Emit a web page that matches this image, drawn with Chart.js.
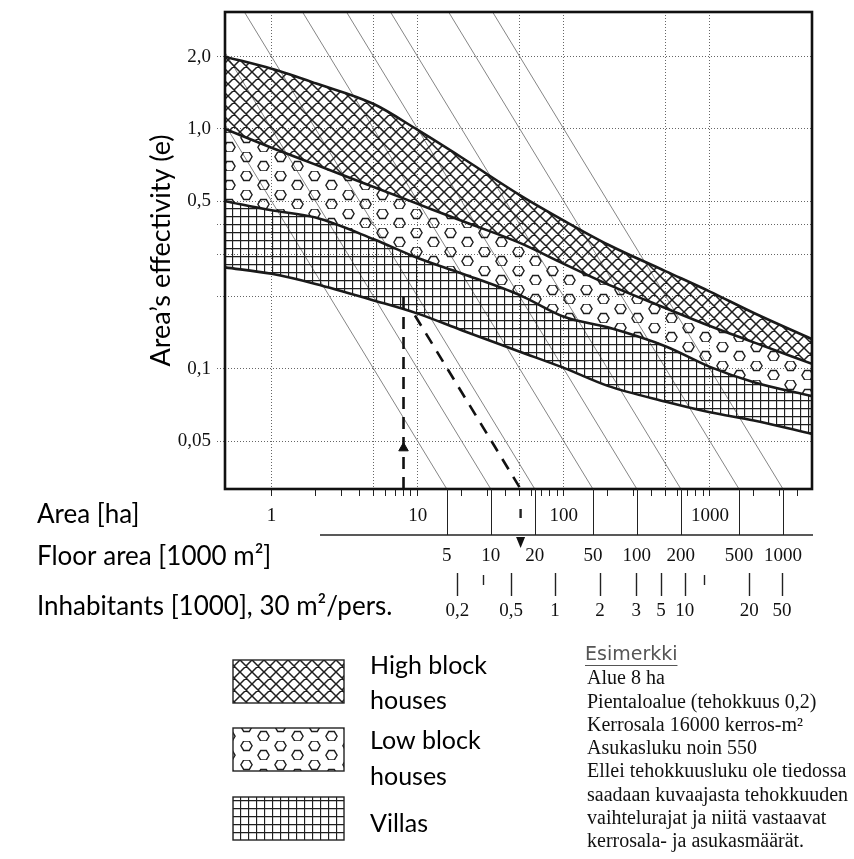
<!DOCTYPE html>
<html>
<head>
<meta charset="utf-8">
<script src="https://cdn.jsdelivr.net/npm/chart.js@4.4.1/dist/chart.umd.min.js"></script>
<style>
  html, body { margin: 0; padding: 0; background: #fff; }
  #chart { display: block; }
</style>
</head>
<body>
<canvas id="chart" width="854" height="859"></canvas>
<script>
// area [ha] where the band borders were read
const areas = [0.48, 1, 2, 5, 10, 20, 50, 100, 200, 500, 1000, 2000, 5000];
// area's effectivity (e) on each border, top to bottom
const highTop = [2.0, 1.78, 1.55, 1.27, 0.99, 0.76, 0.53, 0.415, 0.33, 0.255, 0.21, 0.171, 0.133];
const highLow = [1.0, 0.835, 0.71, 0.573, 0.487, 0.414, 0.335, 0.274, 0.225, 0.179, 0.151, 0.129, 0.105];
const lowVilla = [0.5, 0.458, 0.427, 0.347, 0.29, 0.25, 0.203, 0.165, 0.149, 0.124, 0.102, 0.088, 0.077];
const villaBottom = [0.265, 0.249, 0.226, 0.193, 0.17, 0.145, 0.118, 0.101, 0.085, 0.073, 0.066, 0.061, 0.0536];

const yTicks = [0.05, 0.1, 0.2, 0.3, 0.4, 0.5, 1, 2];
const yLabels = { 0.05: '0,05', 0.1: '0,1', 0.5: '0,5', 1: '1,0', 2: '2,0' };
const xGrid = [1, 5, 10, 50, 100, 500, 1000];
const xLabels = [1, 10, 100, 1000];

// floor area [1000 m2]: slanted lines and second scale
const floorTicks = [5, 10, 20, 50, 100, 200, 500, 1000];
// inhabitants [1000] and where they sit on the floor area scale
const inhabLabels = ['0,2', '0,5', '1', '2', '3', '5', '10', '20', '50'];
const inhabAt = [5.9, 13.8, 27.5, 56, 99, 146, 213, 587, 986];
const inhabSmall = [8.85, 288];

// example: 8 ha, e 0.2, 16000 floor m2
const exampleArea = 8;
const exampleE = 0.2;
const exampleFloor = 16;
const exampleStartE = 0.167;
const exampleArrowE = 0.0468;

const exampleText = [
    'Alue 8 ha',
    'Pientaloalue (tehokkuus 0,2)',
    'Kerrosala 16000 kerros-m²',
    'Asukasluku noin 550',
    'Ellei tehokkuusluku ole tiedossa',
    'saadaan kuvaajasta tehokkuuden',
    'vaihtelurajat ja niitä vastaavat',
    'kerrosala- ja asukasmäärät.'
];

const E_MIN = 0.0316, E_MAX = 3.07, A_MIN = 0.48, A_MAX = 5000;

const xTickValues = [];
for (let p = 1; p <= 1000; p *= 10) {
    for (let n = 1; n <= 9; n++) if (n * p < A_MAX) xTickValues.push(n * p);
}

const SANS = 'Lato, "Open Sans", sans-serif';
const SERIF = '"Liberation Serif", "DejaVu Serif", serif';

function makePattern(w, h, draw) {
    const c = document.createElement('canvas');
    c.width = w; c.height = h;
    const g = c.getContext('2d');
    g.strokeStyle = '#1e1e1e';
    draw(g);
    return g.createPattern(c, 'repeat');
}

const crossPattern = makePattern(12, 12, g => {
    g.lineWidth = 1.5;
    g.beginPath();
    for (const o of [-12, 0, 12]) {
        g.moveTo(o, 0); g.lineTo(o + 12, 12);
        g.moveTo(o + 12, 0); g.lineTo(o, 12);
    }
    g.stroke();
});

const hexPattern = makePattern(34, 19, g => {
    g.lineWidth = 1.4;
    [[8.5, 4.75], [25.5, 14.25]].forEach(([cx, cy]) => {
        g.beginPath();
        for (let k = 0; k < 6; k++) {
            const a = Math.PI / 3 * k;
            const px = cx + 5.6 * Math.cos(a), py = cy + 5.4 * Math.sin(a);
            k ? g.lineTo(px, py) : g.moveTo(px, py);
        }
        g.closePath();
        g.stroke();
    });
});

const gridPattern = makePattern(8, 8, g => {
    g.lineWidth = 1.3;
    g.beginPath();
    g.moveTo(0.5, 0); g.lineTo(0.5, 8);
    g.moveTo(0, 0.5); g.lineTo(8, 0.5);
    g.stroke();
});

const pts = values => areas.map((a, i) => ({ x: a, y: values[i] }));
const curves = [highTop, highLow, lowVilla, villaBottom];
const patterns = [crossPattern, hexPattern, gridPattern];

const fills = curves.map((c, i) => ({
    data: pts(c),
    borderWidth: 0, pointRadius: 0,
    cubicInterpolationMode: 'monotone',
    fill: i < 3 ? '+1' : false,
    backgroundColor: i < 3 ? patterns[i] : 'transparent',
    order: 5
}));

const borders = curves.map(c => ({
    data: pts(c),
    borderColor: '#1a1a1a', borderWidth: 2.6, pointRadius: 0,
    cubicInterpolationMode: 'monotone', fill: false, order: 1
}));

const isoLines = floorTicks.map(f => ({
    data: [{ x: f / (10 * E_MAX), y: E_MAX }, { x: f / (10 * E_MIN), y: E_MIN }],
    borderColor: '#777', borderWidth: 0.9, pointRadius: 0, fill: false, order: 10
}));

const example = [
    {
        data: [{ x: exampleArea, y: E_MIN }, { x: exampleArea, y: exampleE }],
        borderColor: '#111', borderWidth: 2.6, borderDash: [12, 8], pointRadius: 0, fill: false, order: 0
    },
    {
        data: [{ x: exampleFloor / (10 * exampleStartE), y: exampleStartE }, { x: exampleFloor / (10 * E_MIN), y: E_MIN }],
        borderColor: '#111', borderWidth: 2.6, borderDash: [12, 9], pointRadius: 0, fill: false, order: 0
    },
    {
        data: [{ x: exampleArea, y: exampleArrowE }],
        showLine: false, pointStyle: 'triangle', pointRadius: 5.5,
        pointBackgroundColor: '#111', pointBorderColor: '#111', order: 0
    }
];

const extras = {
    id: 'extras',
    afterDraw(chart) {
        const { ctx, chartArea: ca, scales: { x } } = chart;
        const floorX = f => x.getPixelForValue(f / (10 * E_MIN));
        ctx.save();

        // frame
        ctx.strokeStyle = '#111';
        ctx.lineWidth = 2.6;
        ctx.strokeRect(ca.left, ca.top, ca.right - ca.left, ca.bottom - ca.top);

        // floor area scale
        ctx.lineWidth = 1;
        ctx.strokeStyle = '#222';
        ctx.beginPath();
        floorTicks.forEach(f => {
            const px = Math.round(floorX(f)) + 0.5;
            ctx.moveTo(px, ca.bottom); ctx.lineTo(px, 535);
        });
        ctx.stroke();
        ctx.lineWidth = 1.6;
        ctx.beginPath();
        ctx.moveTo(320, 535); ctx.lineTo(813, 535);
        ctx.stroke();

        ctx.fillStyle = '#111';
        ctx.font = '19px ' + SERIF;
        ctx.textAlign = 'center';
        ctx.textBaseline = 'middle';
        floorTicks.forEach(f => ctx.fillText(String(f), floorX(f), 556));

        // inhabitants scale
        ctx.lineWidth = 1.4;
        ctx.beginPath();
        inhabAt.forEach(f => {
            const px = Math.round(floorX(f)) + 0.5;
            ctx.moveTo(px, 573); ctx.lineTo(px, 596);
        });
        inhabSmall.forEach(f => {
            const px = Math.round(floorX(f)) + 0.5;
            ctx.moveTo(px, 575); ctx.lineTo(px, 585);
        });
        ctx.stroke();
        inhabLabels.forEach((t, i) => ctx.fillText(t, floorX(inhabAt[i]), 611));

        // example arrow down to the floor area scale
        const ax = floorX(exampleFloor);
        ctx.lineWidth = 2.4;
        ctx.beginPath();
        ctx.moveTo(ax, 509); ctx.lineTo(ax, 518);
        ctx.stroke();
        ctx.beginPath();
        ctx.moveTo(ax - 4.5, 537); ctx.lineTo(ax + 4.5, 537); ctx.lineTo(ax, 548);
        ctx.closePath();
        ctx.fill();

        // row titles
        ctx.textAlign = 'left';
        ctx.fillStyle = '#000';
        ctx.font = '26px ' + SANS;
        ctx.fillText('Area [ha]', 37, 515);
        ctx.fillText('Floor area [1000 m²]', 37, 557);
        ctx.fillText('Inhabitants [1000], 30 m²/pers.', 37, 607);

        // legend
        const legend = [
            { p: crossPattern, y: 660, lines: ['High block', 'houses'], ty: [666, 701] },
            { p: hexPattern, y: 728, lines: ['Low block', 'houses'], ty: [741, 777] },
            { p: gridPattern, y: 797, lines: ['Villas'], ty: [824] }
        ];
        ctx.font = '25px ' + SANS;
        legend.forEach(l => {
            ctx.fillStyle = '#fff';
            ctx.fillRect(233, l.y, 111, 43);
            ctx.fillStyle = l.p;
            ctx.fillRect(233, l.y, 111, 43);
            ctx.strokeStyle = '#222';
            ctx.lineWidth = 1.4;
            ctx.strokeRect(233, l.y, 111, 43);
            ctx.fillStyle = '#000';
            l.lines.forEach((t, i) => ctx.fillText(t, 370, l.ty[i]));
        });

        // example text
        ctx.fillStyle = '#555';
        ctx.font = '19px "DejaVu Sans", sans-serif';
        ctx.fillText('Esimerkki', 585, 655);
        const w = ctx.measureText('Esimerkki').width;
        ctx.strokeStyle = '#555';
        ctx.lineWidth = 1;
        ctx.beginPath();
        ctx.moveTo(585, 665.5); ctx.lineTo(585 + w, 665.5);
        ctx.stroke();

        ctx.fillStyle = '#111';
        ctx.font = '20px ' + SERIF;
        exampleText.forEach((t, i) => ctx.fillText(t, 587, 679 + i * 23.3));

        ctx.restore();
    }
};

new Chart(document.getElementById('chart').getContext('2d'), {
    type: 'line',
    data: { datasets: [...fills, ...borders, ...isoLines, ...example] },
    options: {
        responsive: false,
        animation: false,
        devicePixelRatio: 1,
        layout: { padding: { left: 145, right: 42, top: 12, bottom: 330 } },
        plugins: { legend: { display: false }, tooltip: { enabled: false } },
        scales: {
            x: {
                type: 'logarithmic', min: A_MIN, max: A_MAX,
                afterBuildTicks: s => { s.ticks = xTickValues.map(v => ({ value: v })); },
                afterFit: s => { s.height = 40; s.paddingLeft = 0; s.paddingRight = 0; },
                grid: {
                    color: c => xGrid.includes(c.tick && c.tick.value) ? '#666' : 'rgba(0,0,0,0)',
                    tickColor: '#222', tickLength: 7, lineWidth: 1
                },
                border: { display: false, dash: [1, 2] },
                ticks: {
                    autoSkip: false, maxRotation: 0, padding: 9, color: '#111',
                    font: { family: SERIF, size: 19 },
                    callback: v => xLabels.includes(v) ? String(v) : ''
                }
            },
            y: {
                type: 'logarithmic', min: E_MIN, max: E_MAX,
                afterBuildTicks: s => { s.ticks = yTicks.map(v => ({ value: v })); },
                afterFit: s => { s.width = 80; s.paddingTop = 0; s.paddingBottom = 0; },
                grid: { color: '#666', tickColor: '#666', tickLength: 8, tickBorderDash: [1, 2] },
                border: { display: false, dash: [1, 2] },
                ticks: {
                    padding: 6, color: '#111',
                    font: { family: SERIF, size: 19 },
                    callback: v => yLabels[v] || ''
                },
                title: {
                    display: true, text: 'Area’s effectivity (e)', color: '#000',
                    font: { family: SANS, size: 27 }, padding: { top: 0, bottom: 0 }
                }
            }
        }
    },
    plugins: [extras]
});
</script>
</body>
</html>
